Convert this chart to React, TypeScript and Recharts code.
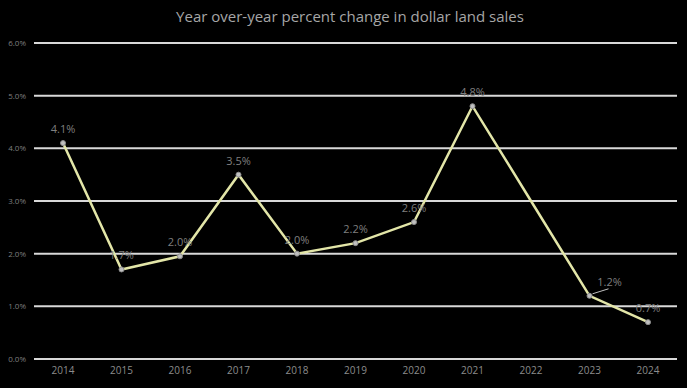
import { LineChart, Line, XAxis, YAxis, CartesianGrid, LabelList } from "recharts";

const YEARS = ["2014", "2015", "2016", "2017", "2018", "2019", "2020", "2021", "2022", "2023", "2024"];
const CHANGE = [4.1, 1.7, 1.95, 3.5, 2.0, 2.2, 2.6, 4.8, 3.0, 1.2, 0.7];
const LABELS = ["4.1%", "1.7%", "2.0%", "3.5%", "2.0%", "2.2%", "2.6%", "4.8%", "", "1.2%", "0.7%"];
const Y_TICKS = [0, 1, 2, 3, 4, 5, 6];

const data = YEARS.map((year, i) => ({ year, value: CHANGE[i], label: LABELS[i] }));

const labelStyle = { fill: "#7f7f7f", fontSize: 11, fontFamily: "'Open Sans', sans-serif" };

const Dot = (props: any) => {
  const { cx, cy, index } = props;
  if (!LABELS[index]) return <g key={index} />;
  return <circle key={index} cx={cx} cy={cy} r={2.5} fill="#bfbfbf" stroke="#8c8c8c" strokeWidth={1} />;
};

// 2023 label sits off to the right with a short leader line, like the original
const PointLabel = (props: any) => {
  const { x, y, index, value } = props;
  if (!value) return null;
  if (index === 9) {
    return (
      <g>
        <line x1={x + 3} y1={y - 2} x2={x + 19} y2={y - 7} stroke="#bfbfbf" strokeWidth={1} />
        <text x={x + 20} y={y - 10} textAnchor="middle" {...labelStyle}>{value}</text>
      </g>
    );
  }
  return <text x={x} y={y - 10} textAnchor="middle" {...labelStyle}>{value}</text>;
};

const App = () => (
  <div style={{ position: "fixed", top: 0, left: 0, width: 687, height: 388, background: "#000" }}>
    <div
      style={{
        position: "absolute", top: 6, left: 0, width: 700, textAlign: "center",
        fontFamily: "'Open Sans', sans-serif", fontSize: 15, color: "#a6a6a6",
      }}
    >
      Year over-year percent change in dollar land sales
    </div>
    <LineChart width={687} height={388} data={data} margin={{ top: 43, right: 10, bottom: 0, left: 0 }}>
      <CartesianGrid horizontal vertical={false} stroke="#d9d9d9" strokeWidth={2} />
      <XAxis
        dataKey="year" axisLine={false} tickLine={false} height={29} padding={{ left: 29, right: 29 }}
        tick={{ fill: "#8c8c8c", fontSize: 10, fontFamily: "'Open Sans', sans-serif" }}
      />
      <YAxis
        domain={[0, 6]} ticks={Y_TICKS} width={34} axisLine={false} tickLine={false}
        tickFormatter={(v: number) => `${v.toFixed(1)}%`}
        tick={{ fill: "#7f7f7f", fontSize: 8, fontFamily: "'Open Sans', sans-serif" }}
      />
      <Line
        type="linear" dataKey="value" stroke="#e3e6a8" strokeWidth={2.5}
        dot={<Dot />} isAnimationActive={false}
      >
        <LabelList dataKey="label" content={<PointLabel />} />
      </Line>
    </LineChart>
  </div>
);

export default App;
